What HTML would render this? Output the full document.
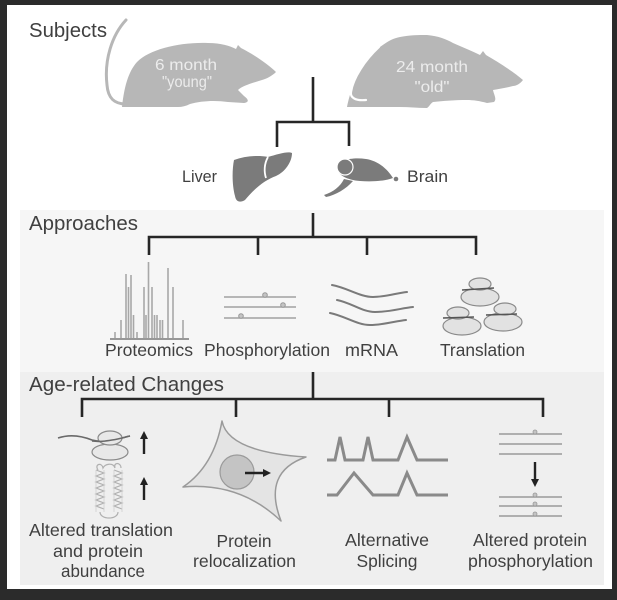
<!DOCTYPE html>
<html>
<head>
<meta charset="utf-8">
<style>
  html,body{margin:0;padding:0;background:#2b2b2b;}
  svg{display:block;}
  text{font-family:"Liberation Sans",Arial,sans-serif;}
</style>
</head>
<body>
<svg width="617" height="600" viewBox="0 0 617 600" xmlns="http://www.w3.org/2000/svg">
  <!-- frame -->
  <rect x="0" y="0" width="617" height="600" fill="#2b2b2b"/>
  <rect x="7" y="5" width="605" height="584" fill="#ffffff"/>
  <!-- panels -->
  <rect x="20" y="210" width="584" height="162" fill="#f6f6f6"/>
  <rect x="20" y="372" width="584" height="213" fill="#efefef"/>

  <!-- ===== Subjects ===== -->
  <text x="29" y="37" font-size="20" fill="#404040" textLength="78" lengthAdjust="spacingAndGlyphs">Subjects</text>

  <!-- young rat -->
  <path d="M126,20 C112,35 104,60 107,85 C108,98 114,104 126,104" fill="none" stroke="#b7b7b7" stroke-width="3" stroke-linecap="round"/>
  <path d="M122,107 C124,88 128,72 137,62 C150,49 180,42 208,43 C221,43 230,46 236,49 L238,45 L241,48 C253,54 268,64 276,72 C272,76 266,79 262,80 C252,83 242,86 238,90 L244,96 C248,99 250,102 244,103 L228,102 C215,100 200,101 190,104 C186,106 182,107 178,107 Z" fill="#b7b7b7"/>
  <text x="186" y="70" font-size="16" fill="#ececec" text-anchor="middle" textLength="62" lengthAdjust="spacingAndGlyphs">6 month</text>
  <text x="187" y="87" font-size="16" fill="#ececec" text-anchor="middle" textLength="50" lengthAdjust="spacingAndGlyphs">"young"</text>

  <!-- old rat -->
  <path d="M347,107 C350,92 354,84 357,77 C364,62 372,52 380,47 C388,41 394,38 400,37 C410,35 418,35 427,35 C438,36 446,39 453,43 C462,47 472,51 480,55 L483,51 L486,55 C498,62 514,72 523,80 C520,84 516,86 513,86 C506,88 499,89 493,90 C494,95 497,99 494,102 L487,103 C480,101 473,100 467,100 C455,100 443,101 433,102 C430,104 429,107 427,108 C418,108 409,107 400,107 Z" fill="#b7b7b7"/>
  <path d="M379,47 C365,60 353,78 351,92 C350,98 356,101 366,100" fill="none" stroke="#ffffff" stroke-width="2.2" stroke-linecap="round"/>
  <text x="432" y="72" font-size="16" fill="#ececec" text-anchor="middle" textLength="72" lengthAdjust="spacingAndGlyphs">24 month</text>
  <text x="432" y="92" font-size="16" fill="#ececec" text-anchor="middle" textLength="35" lengthAdjust="spacingAndGlyphs">"old"</text>

  <!-- subjects tree -->
  <g stroke="#262626" stroke-width="2.6" fill="none">
    <line x1="313" y1="77" x2="313" y2="122"/>
    <polyline points="277,147 277,122 349,122 349,146"/>
  </g>

  <!-- liver -->
  <path d="M234,160 C245,156 258,155 268,157 C278,154 288,151 292,153 C292,162 285,172 276,176 C265,180 255,188 245,200 C240,203 236,202 235,196 C232,185 232,170 234,160 Z" fill="#7b7b7b"/>
  <path d="M268,157 C264,164 264,172 266,178" fill="none" stroke="#ffffff" stroke-width="1.8"/>
  <text x="182" y="182" font-size="16.5" fill="#404040" textLength="35" lengthAdjust="spacingAndGlyphs">Liver</text>

  <!-- brain -->
  <path d="M344,179 C340,187 333,192 324,195 L326,197 C336,195 346,189 353,181 Z" fill="#7b7b7b"/>
  <path d="M337,167 C339,160 352,157 366,159 C379,161 388,170 393,178 C385,181 372,182 360,181 C347,180 337,175 337,167 Z" fill="#7b7b7b"/>
  <circle cx="345" cy="167" r="8" fill="#7b7b7b" stroke="#ffffff" stroke-width="1.2"/>
  <circle cx="396" cy="179" r="2.3" fill="#7b7b7b"/>
  <text x="407" y="182" font-size="17" fill="#404040" textLength="41" lengthAdjust="spacingAndGlyphs">Brain</text>

  <!-- ===== Approaches ===== -->
  <text x="29" y="230" font-size="20" fill="#404040" textLength="109" lengthAdjust="spacingAndGlyphs">Approaches</text>
  <g stroke="#262626" stroke-width="2.6" fill="none">
    <line x1="313" y1="213" x2="313" y2="237"/>
    <polyline points="149,255 149,237 476,237 476,255"/>
    <line x1="258" y1="237" x2="258" y2="255"/>
    <line x1="367" y1="237" x2="367" y2="255"/>
  </g>

  <!-- proteomics bars -->
  <g stroke="#a8a8a8" stroke-width="1.6">
    <line x1="115" y1="338" x2="115" y2="332"/>
    <line x1="121" y1="338" x2="121" y2="320"/>
    <line x1="126" y1="338" x2="126" y2="274"/>
    <line x1="128.5" y1="338" x2="128.5" y2="287"/>
    <line x1="131" y1="338" x2="131" y2="275"/>
    <line x1="133.5" y1="338" x2="133.5" y2="315"/>
    <line x1="137" y1="338" x2="137" y2="332"/>
    <line x1="144" y1="338" x2="144" y2="287"/>
    <line x1="146" y1="338" x2="146" y2="315"/>
    <line x1="148.5" y1="338" x2="148.5" y2="262"/>
    <line x1="152" y1="338" x2="152" y2="287"/>
    <line x1="154.5" y1="338" x2="154.5" y2="315"/>
    <line x1="157" y1="338" x2="157" y2="315"/>
    <line x1="160" y1="338" x2="160" y2="320"/>
    <line x1="162.5" y1="338" x2="162.5" y2="320"/>
    <line x1="168" y1="338" x2="168" y2="268"/>
    <line x1="173" y1="338" x2="173" y2="287"/>
    <line x1="183" y1="338" x2="183" y2="320"/>
  </g>
  <line x1="110" y1="339" x2="189" y2="339" stroke="#8a8a8a" stroke-width="1.8"/>
  <text x="105" y="356" font-size="17.5" fill="#404040" textLength="88" lengthAdjust="spacingAndGlyphs">Proteomics</text>

  <!-- phosphorylation -->
  <g stroke="#a0a0a0" stroke-width="1.6">
    <line x1="224" y1="297" x2="296" y2="297"/>
    <line x1="224" y1="307" x2="296" y2="307"/>
    <line x1="224" y1="318" x2="296" y2="318"/>
  </g>
  <g fill="#c4c4c4" stroke="#999" stroke-width="1">
    <circle cx="265" cy="295" r="2.3"/>
    <circle cx="283" cy="305" r="2.3"/>
    <circle cx="241" cy="316" r="2.3"/>
  </g>
  <text x="204" y="356" font-size="17.5" fill="#404040" textLength="126" lengthAdjust="spacingAndGlyphs">Phosphorylation</text>

  <!-- mRNA -->
  <g stroke="#7a7a7a" stroke-width="2" fill="none" stroke-linecap="round">
    <path d="M332,285 C348,288 360,297 373,297 C385,297 397,293 407,292"/>
    <path d="M337,300 C352,303 362,312 375,312 C390,312 402,308 413,307"/>
    <path d="M330,313 C345,316 357,325 370,325 C383,325 396,321 406,320"/>
  </g>
  <text x="345" y="356" font-size="17.5" fill="#404040" textLength="53" lengthAdjust="spacingAndGlyphs">mRNA</text>

  <!-- translation ribosomes -->
  <g fill="#e2e2e2" stroke="#8a8a8a" stroke-width="1.2">
    <ellipse cx="480" cy="297" rx="19" ry="9"/>
    <ellipse cx="480" cy="284" rx="11" ry="6"/>
    <ellipse cx="462" cy="326" rx="19" ry="9"/>
    <ellipse cx="458" cy="313" rx="11" ry="6"/>
    <ellipse cx="503" cy="322" rx="19" ry="9"/>
    <ellipse cx="505" cy="309" rx="11" ry="6"/>
  </g>
  <g stroke="#555" stroke-width="1.4">
    <line x1="462" y1="290" x2="494" y2="288"/>
    <line x1="443" y1="318" x2="474" y2="317"/>
    <line x1="486" y1="315" x2="517" y2="314"/>
  </g>
  <text x="440" y="356" font-size="17.5" fill="#404040" textLength="85" lengthAdjust="spacingAndGlyphs">Translation</text>

  <!-- ===== Age-related Changes ===== -->
  <text x="29" y="391" font-size="20.5" fill="#404040" textLength="195" lengthAdjust="spacingAndGlyphs">Age-related Changes</text>
  <g stroke="#262626" stroke-width="2.6" fill="none">
    <line x1="313" y1="372" x2="313" y2="399"/>
    <polyline points="82,417 82,399 543,399 543,417"/>
    <line x1="236" y1="399" x2="236" y2="417"/>
    <line x1="389" y1="399" x2="389" y2="417"/>
  </g>

  <!-- icon 1: translation + protein -->
  <path d="M58,438 C70,434 82,436 92,440 C100,442 106,441 112,440 C120,439 125,437 130,436" fill="none" stroke="#6a6a6a" stroke-width="1.6"/>
  <ellipse cx="110" cy="452" rx="18" ry="8" fill="#e8e8e8" stroke="#8a8a8a" stroke-width="1.2"/>
  <ellipse cx="110" cy="438" rx="12" ry="7" fill="#e8e8e8" stroke="#8a8a8a" stroke-width="1.2"/>
  <path d="M92,441 C100,442 106,441 112,440 C120,439 125,437 130,436" fill="none" stroke="#6a6a6a" stroke-width="1.6"/>
  <!-- arrows up -->
  <g stroke="#222" stroke-width="2.4">
    <line x1="144" y1="454" x2="144" y2="438"/>
    <line x1="144" y1="500" x2="144" y2="484"/>
  </g>
  <polygon points="144,431 140,439 148,439" fill="#222"/>
  <polygon points="144,477 140,485 148,485" fill="#222"/>
  <!-- helices -->
  <g fill="none" stroke="#b0b0b0" stroke-width="1.2">
    <path d="M96,470 l8,3 l-8,3 l8,3 l-8,3 l8,3 l-8,3 l8,3 l-8,3 l8,3 l-8,3 l8,3 l-8,3 l8,3"/>
    <path d="M114,470 l8,3 l-8,3 l8,3 l-8,3 l8,3 l-8,3 l8,3 l-8,3 l8,3 l-8,3 l8,3 l-8,3 l8,3"/>
    <path d="M98,470 C94,464 102,462 103,468 C105,464 113,462 115,468 C113,462 121,462 121,468"/>
    <path d="M100,512 C100,520 118,520 118,512"/>
    <path d="M96,470 L96,512 M104,470 L104,512 M114,470 L114,512 M122,470 L122,512" stroke="#cfcfcf" stroke-width="0.8"/>
  </g>
  <text x="101" y="536" font-size="17.5" fill="#404040" text-anchor="middle" textLength="144" lengthAdjust="spacingAndGlyphs">Altered translation</text>
  <text x="98" y="557" font-size="17.5" fill="#404040" text-anchor="middle" textLength="90" lengthAdjust="spacingAndGlyphs">and protein</text>
  <text x="103" y="577" font-size="17.5" fill="#404040" text-anchor="middle" textLength="84" lengthAdjust="spacingAndGlyphs">abundance</text>

  <!-- icon 2: cell -->
  <path d="M222,421 Q228,452 306,457 Q262,472 281,521 Q240,482 183,487 Q214,466 222,421 Z" fill="#e4e4e4" stroke="#9a9a9a" stroke-width="1.5" stroke-linejoin="round"/>
  <circle cx="237" cy="472" r="17" fill="#c4c4c4" stroke="#9a9a9a" stroke-width="1.2"/>
  <line x1="245" y1="473" x2="264" y2="473" stroke="#222" stroke-width="2.4"/>
  <polygon points="271,473 263,469 263,477" fill="#222"/>
  <text x="244" y="547" font-size="17.5" fill="#404040" text-anchor="middle" textLength="55" lengthAdjust="spacingAndGlyphs">Protein</text>
  <text x="244.5" y="567" font-size="17.5" fill="#404040" text-anchor="middle" textLength="103" lengthAdjust="spacingAndGlyphs">relocalization</text>

  <!-- icon 3: splicing -->
  <g fill="none" stroke="#8a8a8a" stroke-width="3" stroke-linejoin="miter">
    <path d="M327,460 L335,460 L340,437 L345,460 L363,460 L368,437 L373,460 L398,460 L407,437 L417,460 L448,460"/>
    <path d="M327,495 L337,495 L354,473 L373,495 L398,495 L407,473 L417,495 L448,495"/>
  </g>
  <text x="387" y="546" font-size="17.5" fill="#404040" text-anchor="middle" textLength="84" lengthAdjust="spacingAndGlyphs">Alternative</text>
  <text x="387" y="567" font-size="17.5" fill="#404040" text-anchor="middle" textLength="61" lengthAdjust="spacingAndGlyphs">Splicing</text>

  <!-- icon 4: phosphorylation -->
  <g stroke="#9a9a9a" stroke-width="1.6">
    <line x1="499" y1="434" x2="562" y2="434"/>
    <line x1="499" y1="444" x2="562" y2="444"/>
    <line x1="499" y1="454" x2="562" y2="454"/>
    <line x1="499" y1="497" x2="562" y2="497"/>
    <line x1="499" y1="506" x2="562" y2="506"/>
    <line x1="499" y1="516" x2="562" y2="516"/>
  </g>
  <g fill="#c4c4c4" stroke="#999" stroke-width="0.8">
    <circle cx="535" cy="432" r="2"/>
    <circle cx="535" cy="495" r="2"/>
    <circle cx="535" cy="504" r="2"/>
    <circle cx="535" cy="514" r="2"/>
  </g>
  <line x1="535" y1="462" x2="535" y2="480" stroke="#222" stroke-width="2.4"/>
  <polygon points="535,487 531,479 539,479" fill="#222"/>
  <text x="530" y="546" font-size="17.5" fill="#404040" text-anchor="middle" textLength="114" lengthAdjust="spacingAndGlyphs">Altered protein</text>
  <text x="530.5" y="567" font-size="17.5" fill="#404040" text-anchor="middle" textLength="125" lengthAdjust="spacingAndGlyphs">phosphorylation</text>
</svg>
</body>
</html>
